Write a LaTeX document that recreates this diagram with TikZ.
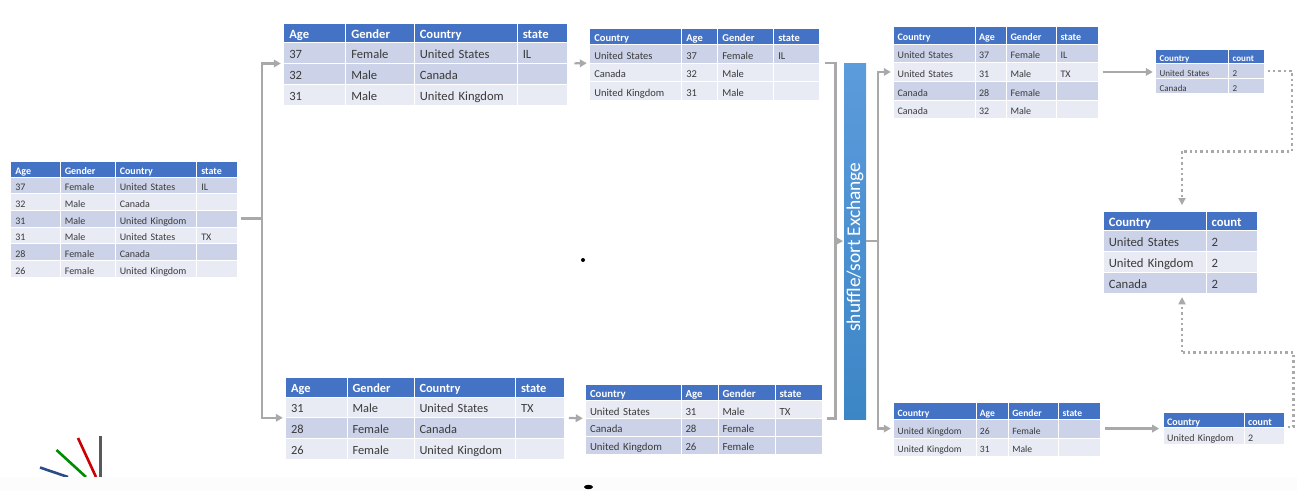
\documentclass[tikz,border=0pt]{standalone}
\usepackage{fontspec}
\setmainfont[WordSpace=0.85]{Carlito}
\usetikzlibrary{arrows.meta,calc}
\definecolor{hdblue}{HTML}{4472C4}
\definecolor{rowdk}{HTML}{CCD3E9}
\definecolor{rowlt}{HTML}{E8EAF4}
\definecolor{conn}{HTML}{A9A9A9}
\definecolor{celltxt}{HTML}{3A3A3A}
\definecolor{bartop}{HTML}{5C9BDC}
\definecolor{barbot}{HTML}{3C86C6}
\tikzset{
  cellbox/.style={draw=white,line width=.7pt,inner ysep=0pt,outer sep=0pt,align=left,text height=1.1em,text depth=0pt},
  hd/.style={fill=hdblue,text=white,font=\tbfont\bfseries},
  dk/.style={fill=rowdk,text=celltxt,font=\tbfont},
  lt/.style={fill=rowlt,text=celltxt,font=\tbfont},
  conline/.style={draw=conn,line width=2.2pt},
  conarrow/.style={conline,-{Triangle[length=7pt,width=7.5pt]}},
  condot/.style={draw=conn,line width=2.4pt,dash pattern=on 2.4pt off 3pt},
  condottip/.style={conn,fill=conn,line width=.4pt},
  logoline/.style={line width=2.6pt}
}
\newcommand\tbrow[6]{%
  \foreach \cellt [count=\cl] in #6 {%
    \pgfmathsetmacro\xl{\tbedges[\cl-1]}%
    \pgfmathsetmacro\xr{\tbedges[\cl]}%
    \pgfmathsetmacro\cwid{\xr-\xl}%
    \pgfmathsetmacro\twid{\cwid-2*\tbpad}%
    \pgfmathsetmacro\chgt{#4-(#3)}%
    \node[cellbox,#5,anchor=north west,xshift=-.2pt,yshift=.1pt,inner xsep=\tbpad pt,text width=\twid pt,minimum width=\cwid pt,minimum height=\chgt pt] (#1-#2-\cl) at (\xl,#3) {\cellt};
  }%
}
% name, size, pad, edges, top, header bottom, row height, header cells, rows
\newcommand\tb[9]{%
  \def\tbfont{\fontsize{#2}{#2}\selectfont}%
  \def\tbpad{#3}%
  \def\tbedges{{#4}}%
  \def\hdcells{#8}%
  \tbrow{#1}{0}{#5}{#6}{hd}{\hdcells}%
  \foreach \rs/\cells [count=\rw] in {#9} {%
    \pgfmathsetmacro\ya{#6+(\rw-1)*#7}%
    \pgfmathsetmacro\yb{#6+\rw*#7}%
    \tbrow{#1}{\rw}{\ya}{\yb}{\rs}{\cells}%
  }%
}
\def\e{}
\begin{document}
\begin{tikzpicture}[x=1pt,y=-1pt]
\useasboundingbox (0,0) rectangle (1297,491);
\fill[white] (0,0) rectangle (1297,491);
% logo
\coordinate (lgA) at (100.5,436); \coordinate (lgAe) at (100.5,477);
\coordinate (lgB) at (78,438);   \coordinate (lgBe) at (96,477);
\coordinate (lgC) at (56.5,450); \coordinate (lgCe) at (86,477);
\coordinate (lgD) at (40,467.5); \coordinate (lgDe) at (68,477);
\draw[logoline,draw=black!65] (lgA) -- (lgAe);
\draw[logoline,draw=red!80!black] (lgB) -- (lgBe);
\draw[logoline,draw=green!55!black] (lgC) -- (lgCe);
\draw[logoline,draw={rgb:red,50;green,90;blue,160}] (lgD) -- (lgDe);
\fill[black!1] (0,477) rectangle (1297,491);
% stray dots
\fill[black] (583,260) circle (2);
\fill[black] (588.5,487) ellipse (4.5 and 2.2);
% tables
\tb{t0}{10}{4.5}{11,60.5,115.5,197,238}{161}{177}{16.67}{Age,Gender,Country,state}{%
  dk/{37,Female,United States,IL},lt/{32,Male,Canada,\e},dk/{31,Male,United Kingdom,\e},%
  lt/{31,Male,United States,TX},dk/{28,Female,Canada,\e},lt/{26,Female,United Kingdom,\e}}
\tb{t1}{12.6}{5.5}{284,346,414.5,517.5,567.5}{23}{42.5}{21.1}{Age,Gender,Country,state}{%
  dk/{37,Female,United States,IL},dk/{32,Male,Canada,\e},lt/{31,Male,United Kingdom,\e}}
\tb{t2}{10.5}{4.5}{590,682,718,774,820}{28.3}{44.7}{18.5}{Country,Age,Gender,state}{%
  dk/{United States,37,Female,IL},lt/{Canada,32,Male,\e},lt/{United Kingdom,31,Male,\e}}
\tb{t3}{10}{3.8}{894,975.5,1007,1057,1098.7}{26}{44}{18.7}{Country,Age,Gender,state}{%
  dk/{United States,37,Female,IL},lt/{United States,31,Male,TX},dk/{Canada,28,Female,\e},lt/{Canada,32,Male,\e}}
\tb{t4}{9}{3.8}{1156,1229,1264.7}{49.3}{63.3}{15}{Country,count}{%
  dk/{United States,2},dk/{Canada,2}}
\tb{t5}{12.7}{5}{1104,1206.7,1257.3}{211}{230.7}{20.9}{Country,count}{%
  dk/{United States,2},lt/{United Kingdom,2},dk/{Canada,2}}
\tb{t6}{10}{4}{1163.3,1244.3,1284.7}{412.3}{427.3}{17.4}{Country,count}{%
  lt/{United Kingdom,2}}
\tb{t7}{9.6}{3.8}{894,976.3,1008.7,1059,1100.7}{402}{419.3}{18.7}{Country,Age,Gender,state}{%
  dk/{United Kingdom,26,Female,\e},lt/{United Kingdom,31,Male,\e}}
\tb{t8}{12.4}{5.2}{286,347.5,414.5,516,565}{377.7}{397}{20.9}{Age,Gender,Country,state}{%
  lt/{31,Male,United States,TX},dk/{28,Female,Canada,\e},lt/{26,Female,United Kingdom,\e}}
\tb{t9}{10.8}{4.2}{586,681.5,718.5,775.5,823}{384}{400.7}{17.9}{Country,Age,Gender,state}{%
  lt/{United States,31,Male,TX},dk/{Canada,28,Female,\e},dk/{United Kingdom,26,Female,\e}}
% shuffle bar
\node[anchor=north west,minimum width=22pt,minimum height=355.7pt,inner sep=0pt,outer sep=0pt,top color=bartop,bottom color=barbot] (bar) at (844,63.3) {};
\node[rotate=90,text=white,inner sep=0pt,font=\fontsize{19.4}{20}\selectfont] (barlabel) at (855,247) {shuffle/sort Exchange};
% connector helpers
\coordinate (busL) at (262,219);
\coordinate (busM) at (835.5,241);
\coordinate (busR) at (878,241);
\coordinate (dotA) at (1292,151.3);
\coordinate (dotB) at (1182,151.3);
\coordinate (topT) at (1182,205);
\coordinate (dotC) at (1293.3,352.3);
\coordinate (dotD) at (1182,352.3);
\coordinate (botT) at (1182,297.3);
% connectors
\draw[conline,shorten <=3pt] (t0-3-4.east) -- (busL |- t0-3-4.east);
\draw[conarrow,shorten >=3pt] (busL) |- (t1-1-1.south west);
\draw[conarrow,shorten >=3pt] (busL) |- (t8-1-1.south west);
\draw[conarrow,shorten <=7pt,shorten >=3pt] (t1-1-4.south east) -- (t2-1-1.south west);
\draw[conarrow,shorten <=4pt,shorten >=3pt] (t8-1-4.south east) -- (t9-1-1.south west);
\draw[conline,shorten <=5pt] (t2-1-4.south east) -| (busM);
\draw[conline,shorten <=4pt] (t9-1-4.south east) -| (busM);
\draw[conarrow,shorten >=1pt] (busM) -- (bar.west);
\draw[conline] (bar.east |- busR) -- (busR);
\draw[conarrow,shorten >=3pt] (busR) |- (t3-2-1.west);
\draw[conarrow,shorten >=3pt] (busR) |- (t7-1-1.west);
\draw[conarrow,shorten <=4pt,shorten >=3pt] (t3-2-4.east) -- (t4-1-1.west |- t3-2-4.east);
\draw[conarrow,shorten <=4pt,shorten >=4pt] (t7-1-4.east) -- (t6-1-1.west |- t7-1-4.east);
\draw[condot,shorten <=3pt] (t4-1-2.east) -| (dotA) -- (dotB);
\draw[condot,shorten >=6pt] (dotB) -- (topT);
\fill[condottip] (topT) -- ++(-3.8,-7) -- ++(7.6,0) -- cycle;
\draw[condot,shorten <=3pt] (t6-0-2.south east) -| (dotC) -- (dotD);
\draw[condot,shorten >=6pt] (dotD) -- (botT);
\fill[condottip] (botT) -- ++(-3.8,7) -- ++(7.6,0) -- cycle;
\end{tikzpicture}
\end{document}
